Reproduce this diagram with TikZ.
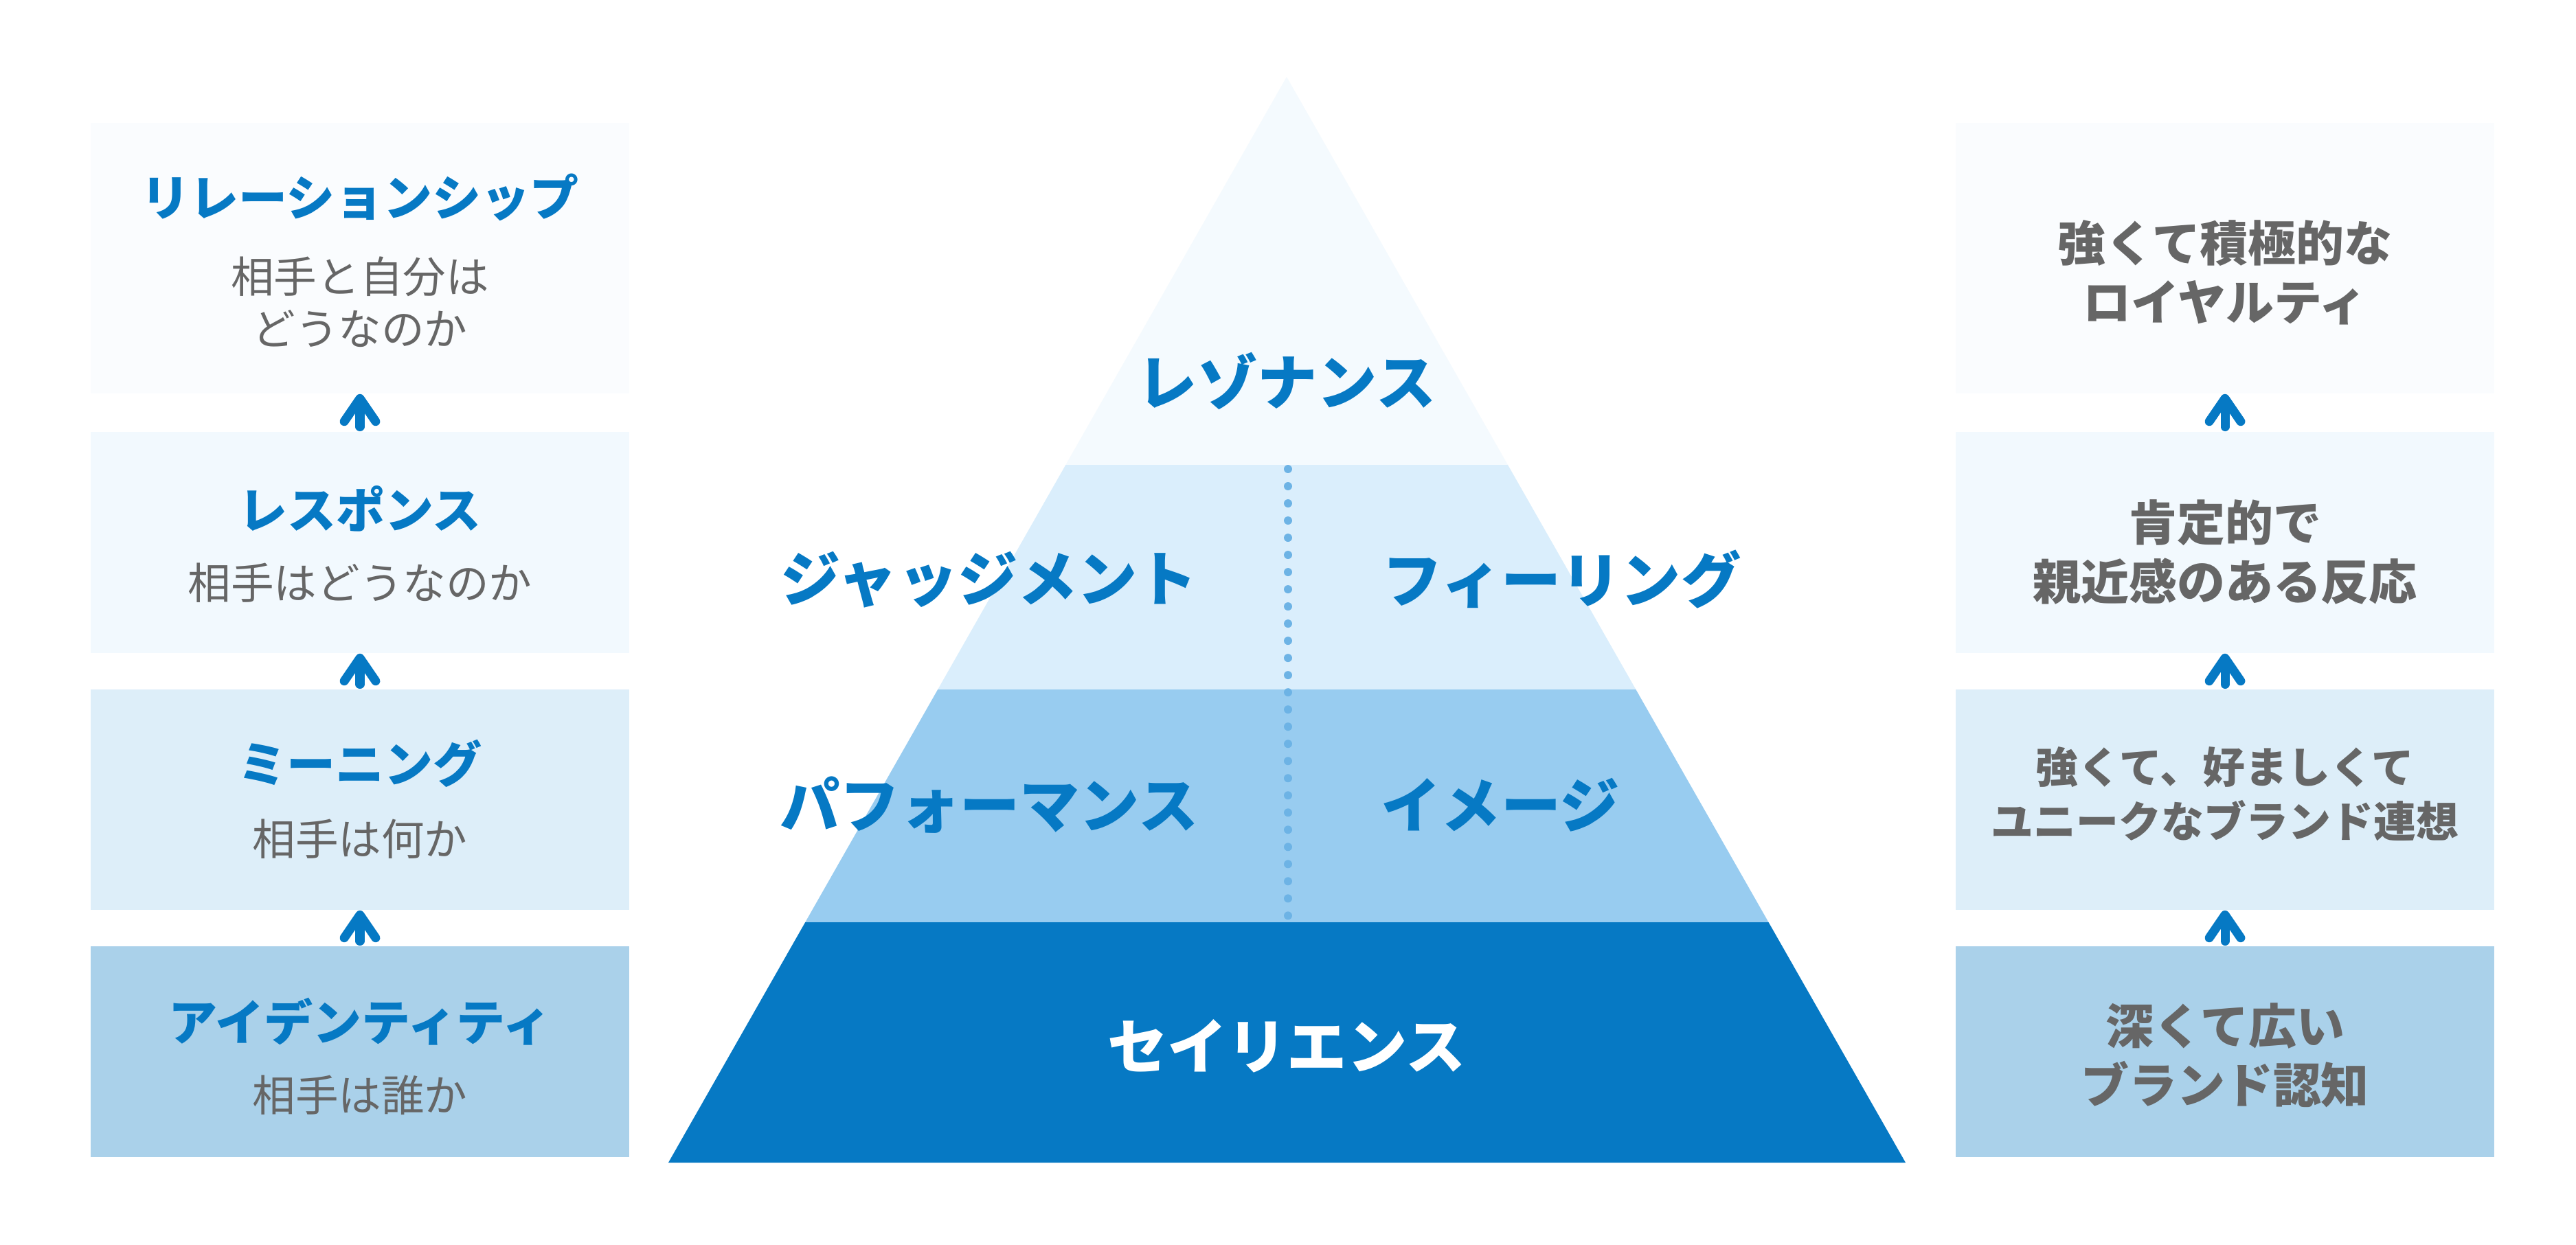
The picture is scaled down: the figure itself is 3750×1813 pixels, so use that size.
\documentclass[tikz,border=0pt]{standalone}
\usepackage{fontspec}
\setmainfont{Noto Sans CJK JP}
\usepackage{xcolor}
\usepackage{tikz}
\usetikzlibrary{arrows.meta,positioning,calc}
\definecolor{bbblue}{HTML}{0679C4}
\definecolor{bbgray}{HTML}{666666}
\definecolor{bbdot}{HTML}{6DB3E5}
\definecolor{bbtierA}{HTML}{FAFCFE}
\definecolor{bbtierB}{HTML}{F2F9FE}
\definecolor{bbtierC}{HTML}{DDEEF9}
\definecolor{bbtierD}{HTML}{AAD1EA}
\definecolor{bbpyrA}{HTML}{F4FAFE}
\definecolor{bbpyrB}{HTML}{DAEEFC}
\definecolor{bbpyrC}{HTML}{98CCF0}
\definecolor{bbpyrD}{HTML}{0679C4}
\tikzset{
bbbox/.style={rectangle,draw=none,inner sep=0pt,minimum width=7.83cm},
bbtitle/.style={text=bbblue,font=\fontsize{20.2}{23}\selectfont\bfseries,inner sep=0pt},
bbsub/.style={text=bbgray,font=\fontsize{17.8}{21.6}\selectfont,align=center,inner sep=0pt},
bbnote/.style={text=bbgray,font=\fontsize{19.9}{24.5}\selectfont\bfseries,align=center,inner sep=0pt},
bbnotesmall/.style={bbnote,font=\fontsize{17.6}{22.5}\selectfont\bfseries},
bblevel/.style={text=bbblue,font=\fontsize{24.8}{28}\selectfont\bfseries,inner sep=0pt},
bbarr/.style={-{Straight Barb[length=9.5pt,width=13pt,round]},bbblue,line width=3.7pt,line cap=round,shorten <=1.9pt,xshift=0.05cm},
bbdots/.style={bbdot,line width=3.4pt,line cap=round,dash pattern=on 0pt off 7.113pt}
}
\begin{document}
\begin{tikzpicture}[x=0.01cm,y=-0.01cm]
\useasboundingbox[fill=white] (0,0) rectangle (3750,1813);
% left column
\node[bbbox,fill=bbtierA,minimum height=3.94cm] (rel) at (524,376) {};
\node[bbbox,fill=bbtierB,minimum height=3.22cm] (resp) at (524,790) {};
\node[bbbox,fill=bbtierC,minimum height=3.21cm] (mean) at (524,1164.5) {};
\node[bbbox,fill=bbtierD,minimum height=3.07cm] (ident) at (524,1531.5) {};
\node[bbtitle] (reltitle) at (524,287) {リレーションシップ};
\node[bbsub] (relsub) at (524,440) {相手と自分は\\どうなのか};
\node[bbtitle] (resptitle) at (524,741) {レスポンス};
\node[bbsub] (respsub) at (524,849) {相手はどうなのか};
\node[bbtitle] (meantitle) at (524,1112) {ミーニング};
\node[bbsub] (meansub) at (524,1222) {相手は何か};
\node[bbtitle] (identtitle) at (524,1488) {アイデンティティ};
\node[bbsub] (identsub) at (524,1595) {相手は誰か};
\draw[bbarr] (ident.north) -- (mean.south);
\draw[bbarr] (mean.north) -- (resp.south);
\draw[bbarr] (resp.north) -- (rel.south);
% pyramid
\coordinate (apex) at (1873,112);
\coordinate (baseL) at (973,1693);
\coordinate (baseR) at (2774,1693);
\begin{scope}
\clip (apex) -- (baseL) -- (baseR) -- cycle;
\fill[bbpyrA] (950,100) rectangle (2800,677);
\fill[bbpyrB] (950,677) rectangle (2800,1004);
\fill[bbpyrC] (950,1004) rectangle (2800,1343);
\fill[bbpyrD] (950,1343) rectangle (2800,1700);
\end{scope}
\coordinate (sepTop) at (1875,683);
\coordinate (sepBot) at (1875,1334);
\draw[bbdots] (sepTop) -- (sepBot);
\node[bblevel] (resonance) at (1873,555) {レゾナンス};
\node[bblevel] (judgement) at (1440,844) {ジャッジメント};
\node[bblevel,anchor=west] (feeling) at (2012,844) {フィーリング};
\node[bblevel] (performance) at (1440,1172) {パフォーマンス};
\node[bblevel,anchor=west] (imagery) at (2010,1172) {イメージ};
\node[bblevel,text=white] (salience) at (1873,1523) {セイリエンス};
% right column
\node[bbbox,fill=bbtierA,minimum height=3.94cm] (loyal) at (3239,376) {};
\node[bbbox,fill=bbtierB,minimum height=3.22cm] (react) at (3239,790) {};
\node[bbbox,fill=bbtierC,minimum height=3.21cm] (assoc) at (3239,1164.5) {};
\node[bbbox,fill=bbtierD,minimum height=3.07cm] (aware) at (3239,1531.5) {};
\node[bbnote] (loyaltext) at (3239,397) {強くて積極的な\\ロイヤルティ};
\node[bbnote] (reacttext) at (3239,804) {肯定的で\\親近感のある反応};
\node[bbnotesmall] (assoctext) at (3239,1156.5) {強くて、好ましくて\\ユニークなブランド連想};
\node[bbnote] (awaretext) at (3239,1536.5) {深くて広い\\ブランド認知};
\draw[bbarr] (aware.north) -- (assoc.south);
\draw[bbarr] (assoc.north) -- (react.south);
\draw[bbarr] (react.north) -- (loyal.south);
\end{tikzpicture}
\end{document}
